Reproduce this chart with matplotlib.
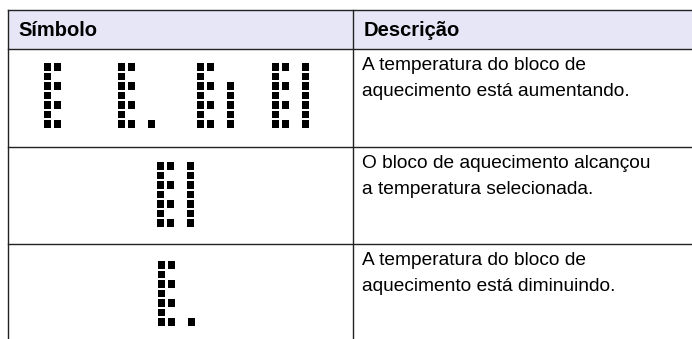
import matplotlib
matplotlib.use("Agg")
import matplotlib.pyplot as plt
from matplotlib.patches import Rectangle

# ---- data ----
headers = ["Símbolo", "Descrição"]
descriptions = [
    ["A temperatura do bloco de", "aquecimento está aumentando."],
    ["O bloco de aquecimento alcançou", "a temperatura selecionada."],
    ["A temperatura do bloco de", "aquecimento está diminuindo."],
]
# dot-matrix glyphs (rows top->bottom, 'X' = lit dot)
glyph_E = ["XX..", "X...", "XX..", "X...", "XX..", "X...", "XX.."]
glyph_Edot = ["XX..", "X...", "XX..", "X...", "XX..", "X...", "XX.X"]
glyph_Ecomma = ["XX..", "X...", "XX.X", "X..X", "XX.X", "X..X", "XX.X"]
glyph_Ebar = ["XX.X", "X..X", "XX.X", "X..X", "XX.X", "X..X", "XX.X"]
row_symbols = [
    [glyph_E, glyph_Edot, glyph_Ecomma, glyph_Ebar],
    [glyph_Ebar],
    [glyph_Edot],
]

# ---- layout (pixels) ----
W, H = 692, 339
left, right, divider = 8, 692, 353
header_top, header_bot = 10, 49
row_tops = [49, 147, 244]
row_bot = 339
sym_x = [[44, 118, 197, 272], [157], [158]]
sym_y = [63, 162, 261]
dot_w, dot_h = 7, 7.5
col_pitch = 10
row_pitch = 9.5

fig = plt.figure(figsize=(W / 100, H / 100), dpi=100)
ax = fig.add_axes([0, 0, 1, 1])
ax.set_xlim(0, W)
ax.set_ylim(H, 0)
ax.axis("off")

font = "Liberation Sans"
lc = "#222222"
lw = 1.0

# header
ax.add_patch(Rectangle((left, header_top), right - left, header_bot - header_top,
                       facecolor="#e6e6f7", edgecolor="none"))
ax.plot([left, right], [header_top, header_top], color=lc, lw=lw)
for yt in row_tops:
    ax.plot([left, right], [yt, yt], color=lc, lw=lw)
ax.plot([left, left], [header_top, row_bot], color=lc, lw=lw)
ax.plot([divider, divider], [header_top, row_bot], color=lc, lw=lw)

ax.text(18, 30, headers[0], fontsize=14.5, fontweight="bold", family=font,
        va="center", ha="left")
ax.text(364, 30, headers[1], fontsize=14.5, fontweight="bold", family=font,
        va="center", ha="left")

for i, lines in enumerate(descriptions):
    for j, line in enumerate(lines):
        ax.text(362, row_tops[i] + 21 + j * 26, line, fontsize=13.8, family=font,
                va="baseline", ha="left")

for i, glyphs in enumerate(row_symbols):
    for k, g in enumerate(glyphs):
        x0 = sym_x[i][k]
        y0 = sym_y[i]
        for r, rowstr in enumerate(g):
            for c, ch in enumerate(rowstr):
                if ch == "X":
                    ax.add_patch(Rectangle((x0 + c * col_pitch, y0 + r * row_pitch),
                                           dot_w, dot_h, facecolor="black",
                                           edgecolor="none"))

fig.savefig("out.png", dpi=100)
